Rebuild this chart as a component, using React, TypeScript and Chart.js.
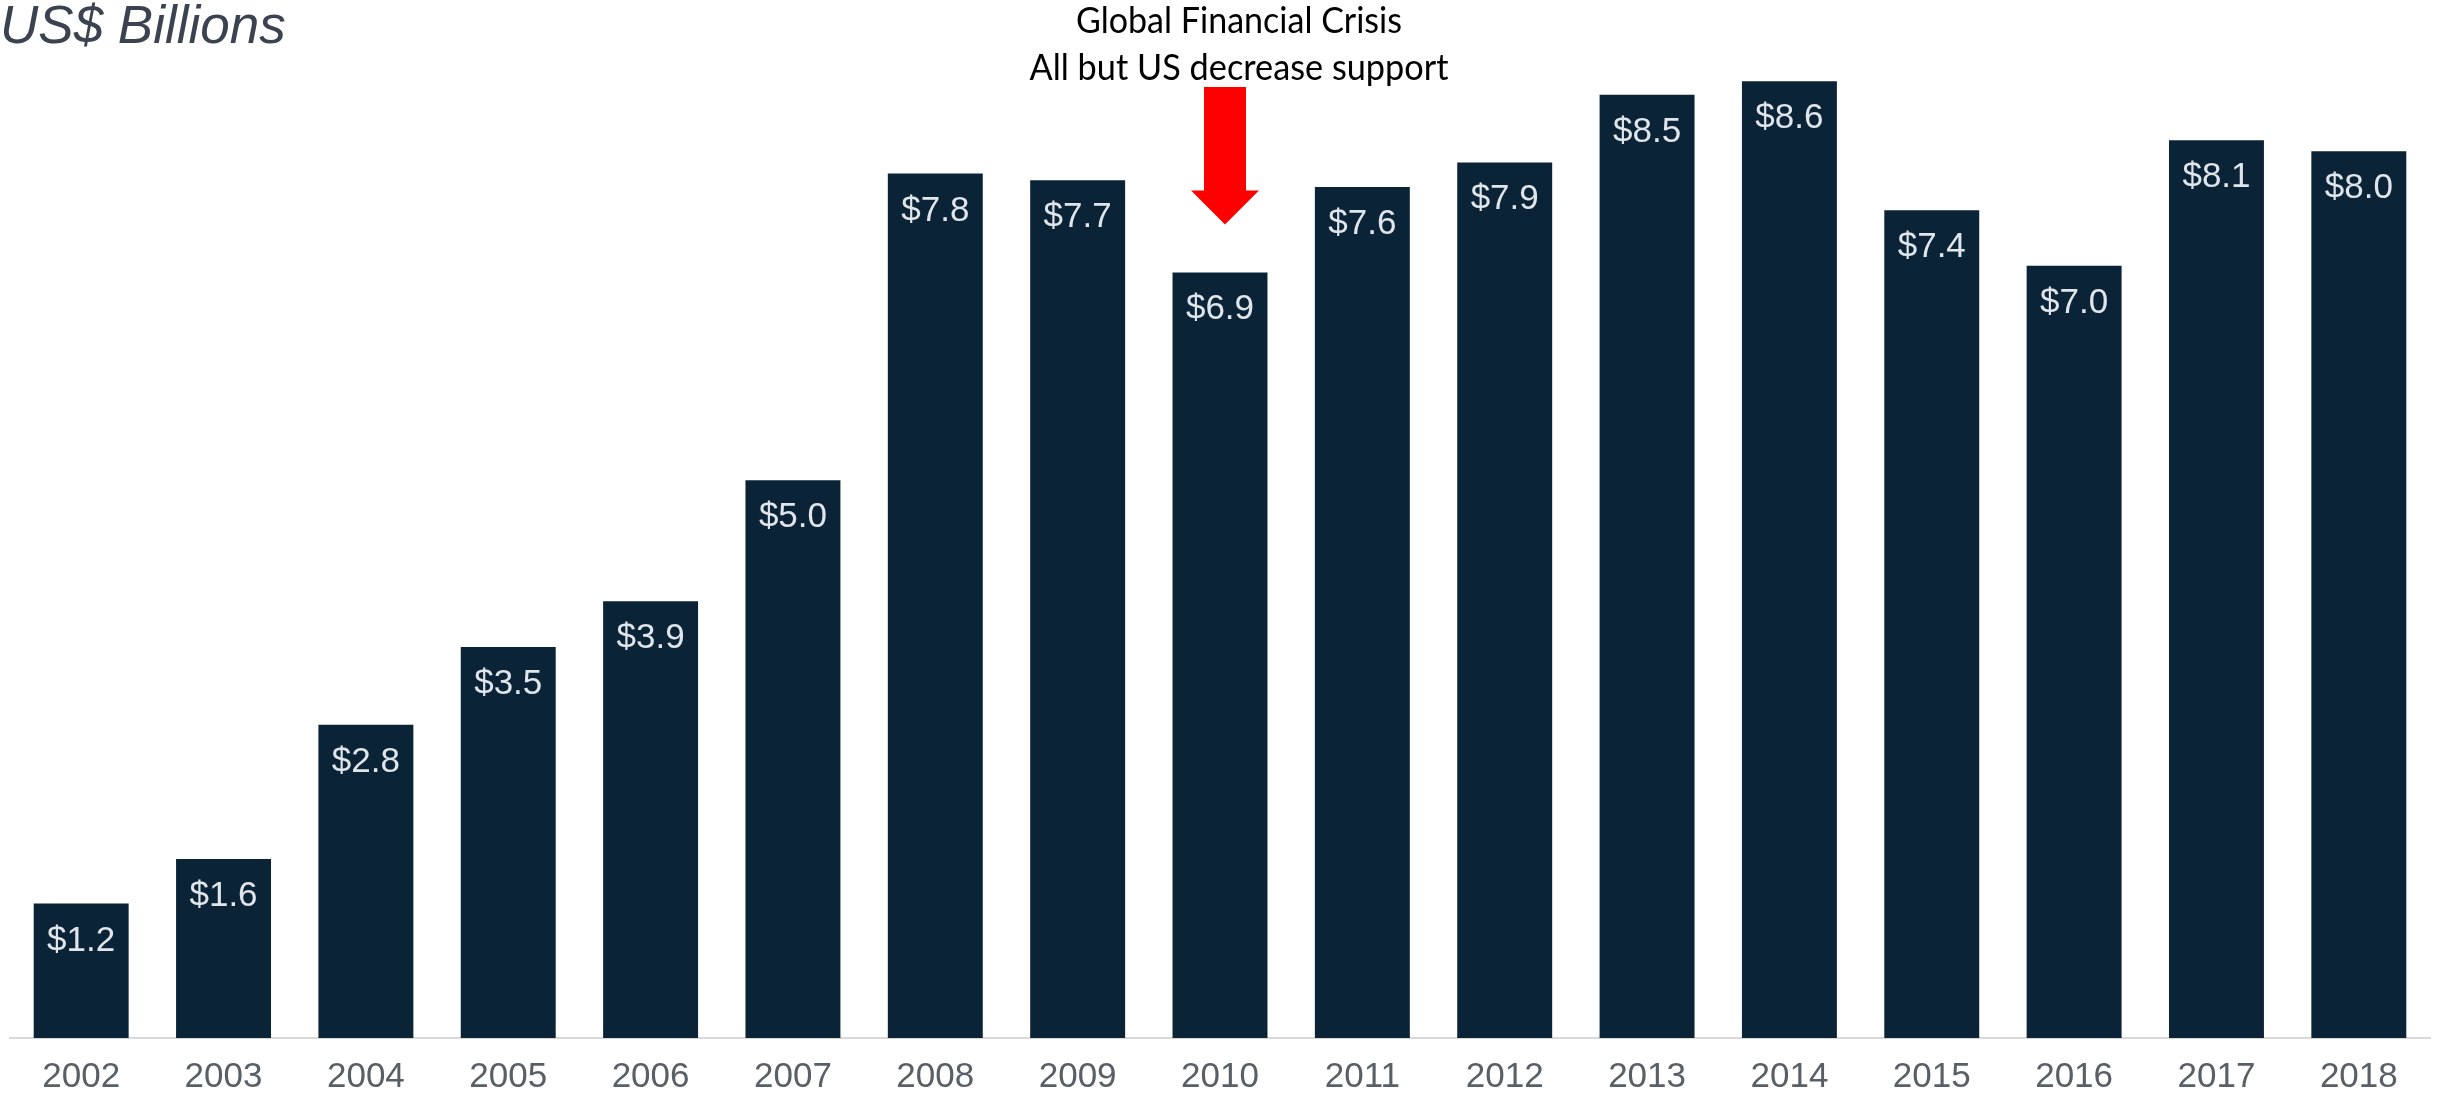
import React, { useEffect, useRef } from "react";
import { Chart, registerables } from "chart.js";

Chart.register(...registerables);

const years = ["2002","2003","2004","2005","2006","2007","2008","2009","2010","2011","2012","2013","2014","2015","2016","2017","2018"];
const values = [1.21, 1.61, 2.82, 3.52, 3.93, 5.02, 7.78, 7.72, 6.89, 7.66, 7.88, 8.49, 8.61, 7.45, 6.95, 8.08, 7.98];
const valueLabels = ["$1.2","$1.6","$2.8","$3.5","$3.9","$5.0","$7.8","$7.7","$6.9","$7.6","$7.9","$8.5","$8.6","$7.4","$7.0","$8.1","$8.0"];
const unitTitle = "US$ Billions";
const annotationLines = ["Global Financial Crisis", "All but US decrease support"];
const annotationYear = "2010";

const overlayPlugin = {
  id: "overlay",
  afterDatasetsDraw(chart: any) {
    const ctx = chart.ctx;
    const meta = chart.getDatasetMeta(0);
    ctx.save();
    // data labels
    ctx.font = "35px 'Liberation Sans', Arial, sans-serif";
    ctx.fillStyle = "#dfe5ea";
    ctx.textAlign = "center";
    ctx.textBaseline = "alphabetic";
    meta.data.forEach((el: any, i: number) => {
      ctx.fillText(valueLabels[i], el.x, el.y + 47);
    });
    // title
    ctx.font = "italic 53px 'Liberation Sans', Arial, sans-serif";
    ctx.fillStyle = "#3b4350";
    ctx.textAlign = "left";
    ctx.fillText(unitTitle, 0, 43);
    // annotation
    const idx = years.indexOf(annotationYear);
    const bar = meta.data[idx];
    const cx = bar.x + 5;
    ctx.font = "36px Lato, 'Noto Sans', sans-serif";
    ctx.fillStyle = "#000000";
    ctx.textAlign = "center";
    ctx.fillText(annotationLines[0], bar.x + 19, 33, 326);
    ctx.fillText(annotationLines[1], bar.x + 19, 80, 419);
    // arrow
    const tipY = bar.y - 48;
    ctx.fillStyle = "#ff0000";
    ctx.beginPath();
    ctx.moveTo(cx - 21, 87);
    ctx.lineTo(cx + 21, 87);
    ctx.lineTo(cx + 21, tipY - 34);
    ctx.lineTo(cx + 34, tipY - 34);
    ctx.lineTo(cx, tipY);
    ctx.lineTo(cx - 34, tipY - 34);
    ctx.lineTo(cx - 21, tipY - 34);
    ctx.closePath();
    ctx.fill();
    ctx.restore();
  },
};

export default function App() {
  const ref = useRef<HTMLCanvasElement | null>(null);
  useEffect(() => {
    document.body.style.margin = "0";
    const chart = new Chart(ref.current as HTMLCanvasElement, {
      type: "bar",
      data: {
        labels: years,
        datasets: [
          {
            data: values,
            backgroundColor: "#0a2336",
            borderWidth: 0,
            categoryPercentage: 1,
            barPercentage: 0.667,
          },
        ],
      },
      options: {
        responsive: false,
        animation: false,
        layout: { padding: { left: 10, right: 8, top: 38, bottom: 0 } },
        plugins: { legend: { display: false }, tooltip: { enabled: false }, title: { display: false } },
        scales: {
          x: {
            grid: { display: false, drawTicks: false },
            border: { display: true, color: "#d9d9d9", width: 2 },
            ticks: {
              color: "#595f66",
              font: { family: "'Liberation Sans', Arial, sans-serif", size: 35 },
              padding: 18,
              maxRotation: 0,
              autoSkip: false,
            },
            afterFit: (scale: any) => {
              scale.height = 57;
            },
          },
          y: {
            display: false,
            min: 0,
            max: 9,
          },
        },
      },
      plugins: [overlayPlugin],
    });
    return () => chart.destroy();
  }, []);
  return (
    <canvas
      ref={ref}
      width={2438}
      height={1095}
      style={{ position: "absolute", left: 0, top: 0, display: "block" }}
    />
  );
}
